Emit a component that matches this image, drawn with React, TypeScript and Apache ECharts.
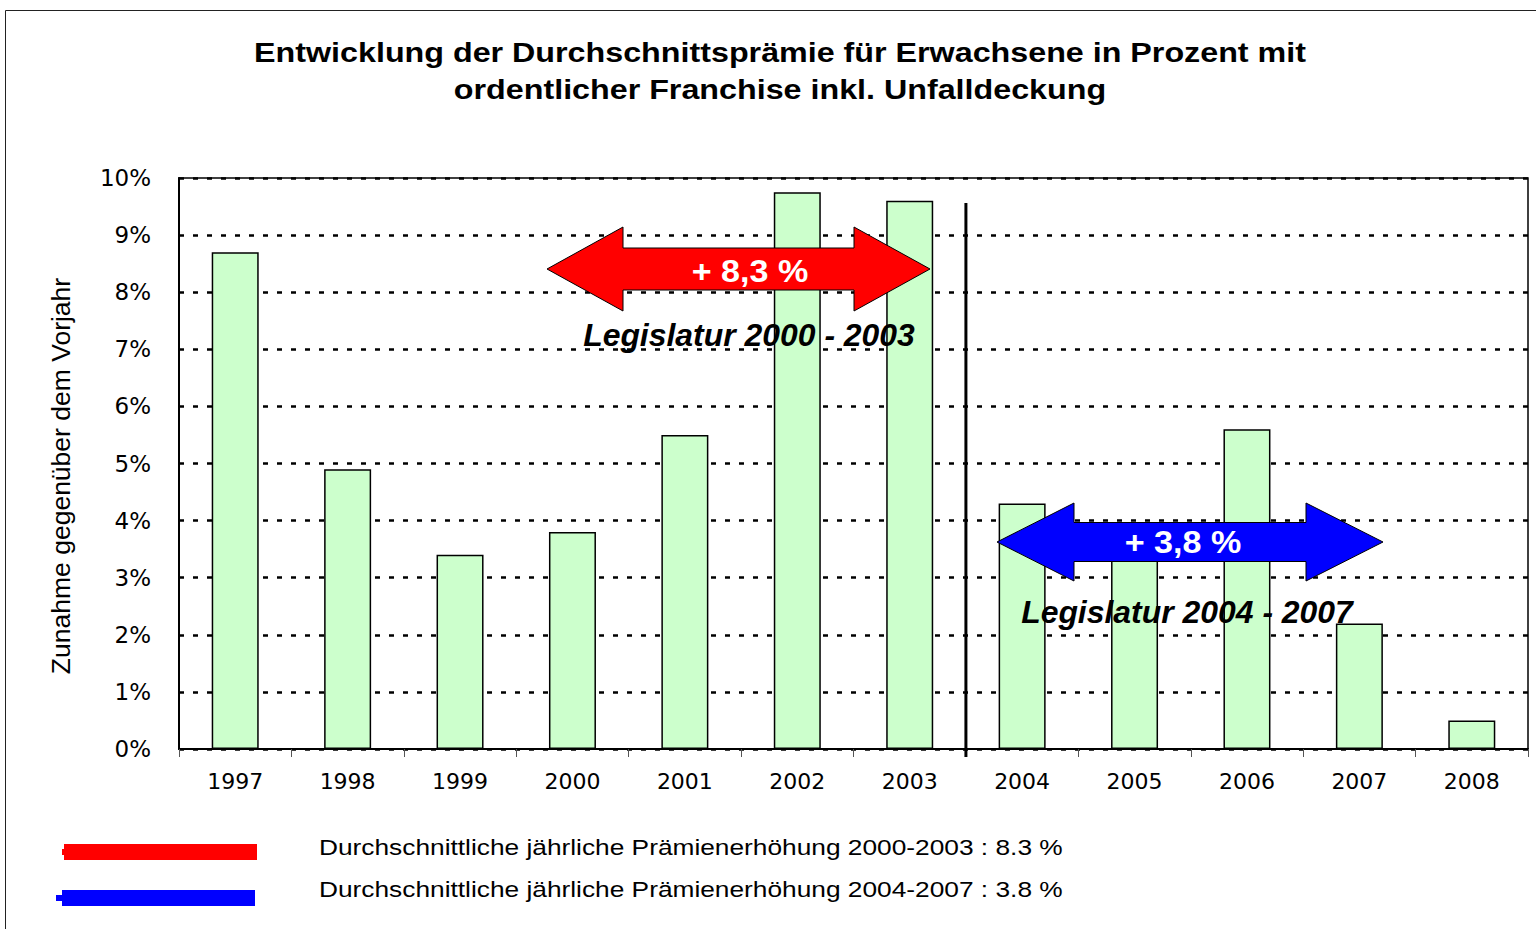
import React, { useEffect, useRef } from "react";
import * as echarts from "echarts";

const years = ["1997", "1998", "1999", "2000", "2001", "2002", "2003", "2004", "2005", "2006", "2007", "2008"];
const increases = [8.7, 4.9, 3.4, 3.8, 5.5, 9.75, 9.6, 4.3, 3.7, 5.6, 2.2, 0.5];
const yTicks = { min: 0, max: 10, interval: 1 };
const titleLines = [
  "Entwicklung der Durchschnittsprämie für Erwachsene in Prozent mit",
  "ordentlicher Franchise inkl. Unfalldeckung",
];
const yAxisName = "Zunahme gegenüber dem Vorjahr";
const legendTexts = [
  "Durchschnittliche jährliche Prämienerhöhung 2000-2003 : 8.3 %",
  "Durchschnittliche jährliche Prämienerhöhung 2004-2007 : 3.8 %",
];
const arrowLabels = ["+ 8,3 %", "+ 3,8 %"];
const periodLabels = ["Legislatur 2000 - 2003", "Legislatur 2004 - 2007"];

const FONT = "'Liberation Sans', Arial, sans-serif";
const AXFONT = "'DejaVu Sans', 'Liberation Sans', sans-serif";

function arrowPoints(x1: number, x2: number, cy: number, head: number, halfH: number, halfS: number) {
  return [
    [x1, cy],
    [x1 + head, cy - halfH],
    [x1 + head, cy - halfS],
    [x2 - head, cy - halfS],
    [x2 - head, cy - halfH],
    [x2, cy],
    [x2 - head, cy + halfH],
    [x2 - head, cy + halfS],
    [x1 + head, cy + halfS],
    [x1 + head, cy + halfH],
  ];
}

export default function App() {
  const ref = useRef<HTMLDivElement>(null);
  useEffect(() => {
    if (!ref.current) return;
    const chart = echarts.init(ref.current, undefined, { renderer: "svg" });
    chart.setOption({
      animation: false,
      backgroundColor: "#ffffff",
      grid: {
        left: 179,
        right: 8,
        top: 178,
        bottom: 180,
        show: true,
        borderColor: "#000",
        borderWidth: 1.5,
        containLabel: false,
      },
      xAxis: {
        type: "category",
        data: years,
        boundaryGap: true,
        axisLine: { show: true, lineStyle: { color: "#000", width: 2 } },
        axisTick: { show: true, length: 8, lineStyle: { color: "#555", width: 1 } },
        axisLabel: { color: "#000", fontFamily: AXFONT, fontSize: 22, margin: 21 },
        splitLine: { show: false },
      },
      yAxis: {
        type: "value",
        min: yTicks.min,
        max: yTicks.max,
        interval: yTicks.interval,
        axisLine: { show: true, lineStyle: { color: "#000", width: 2 } },
        axisTick: { show: false },
        axisLabel: { color: "#000", fontFamily: AXFONT, fontSize: 23, margin: 28, formatter: "{value}%" },
        splitLine: { show: true, lineStyle: { color: "#000", width: 2.5, type: [5, 9] } },
      },
      series: [
        {
          type: "bar",
          data: increases,
          barWidth: 47,
          itemStyle: { color: "#ccffcc", borderColor: "#000", borderWidth: 1.5 },
        },
      ],
    });

    const xa = chart.convertToPixel({ xAxisIndex: 0 }, "2003") as number;
    const xb = chart.convertToPixel({ xAxisIndex: 0 }, "2004") as number;
    const sepX = (xa + xb) / 2;
    const sepTop = chart.convertToPixel({ yAxisIndex: 0 }, 9.56) as number;

    const centered = (x: number, y: number, text: string, font: string, fill: string, scaleX = 1, z = 10) => ({
      type: "text",
      x,
      y,
      scaleX,
      z,
      style: { text, fill, font, textAlign: "center", textVerticalAlign: "middle" },
    });

    chart.setOption({
      graphic: [
        {
          type: "rect",
          shape: { x: 5.5, y: 10.5, width: 1540, height: 930 },
          style: { fill: "none", stroke: "#222", lineWidth: 1 },
          silent: true,
        },
        centered(780, 52, titleLines[0], `bold 27px ${FONT}`, "#000", 1.195),
        centered(780, 89, titleLines[1], `bold 27px ${FONT}`, "#000", 1.195),
        {
          type: "text",
          x: 61,
          y: 476,
          rotation: Math.PI / 2,
          style: {
            text: yAxisName,
            fill: "#000",
            font: `26.5px ${FONT}`,
            textAlign: "center",
            textVerticalAlign: "middle",
          },
        },
        {
          type: "line",
          shape: { x1: sepX, y1: sepTop, x2: sepX, y2: 757 },
          style: { stroke: "#000", lineWidth: 3 },
          z: 50,
        },
        {
          type: "polygon",
          shape: { points: arrowPoints(547, 930, 269, 76, 42, 21) },
          style: { fill: "#ff0000", stroke: "#000", lineWidth: 1 },
          z: 60,
        },
        centered(750, 272, arrowLabels[0], `bold 31px ${FONT}`, "#fff", 1.1, 61),
        {
          type: "polygon",
          shape: { points: arrowPoints(997, 1383, 542, 77, 39, 19.5) },
          style: { fill: "#0000ff", stroke: "#000", lineWidth: 1 },
          z: 60,
        },
        centered(1183, 543, arrowLabels[1], `bold 31px ${FONT}`, "#fff", 1.1, 61),
        centered(749, 336, periodLabels[0], `italic bold 31px ${FONT}`, "#000", 1.03, 61),
        centered(1187, 613, periodLabels[1], `italic bold 31px ${FONT}`, "#000", 1.03, 61),
        {
          type: "rect",
          shape: { x: 64, y: 844, width: 193, height: 16 },
          style: { fill: "#ff0000" },
        },
        {
          type: "rect",
          shape: { x: 62, y: 849, width: 4, height: 6 },
          style: { fill: "#ff0000" },
        },
        {
          type: "rect",
          shape: { x: 62, y: 890, width: 193, height: 16 },
          style: { fill: "#0000ff" },
        },
        {
          type: "rect",
          shape: { x: 56, y: 895, width: 8, height: 6 },
          style: { fill: "#0000ff" },
        },
        {
          type: "text",
          x: 319,
          y: 847,
          scaleX: 1.195,
          style: {
            text: legendTexts[0],
            fill: "#000",
            font: `22px ${FONT}`,
            textAlign: "left",
            textVerticalAlign: "middle",
          },
        },
        {
          type: "text",
          x: 319,
          y: 889,
          scaleX: 1.195,
          style: {
            text: legendTexts[1],
            fill: "#000",
            font: `22px ${FONT}`,
            textAlign: "left",
            textVerticalAlign: "middle",
          },
        },
      ],
    });

    return () => chart.dispose();
  }, []);

  return (
    <div
      ref={ref}
      style={{ position: "absolute", left: 0, top: 0, width: 1536, height: 929 }}
    />
  );
}
